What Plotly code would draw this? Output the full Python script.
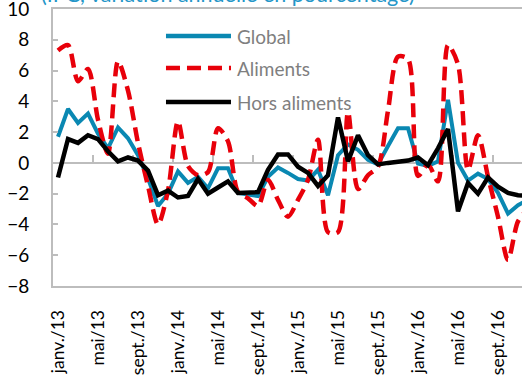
import plotly.graph_objects as go

# Monthly year-on-year CPI change, janv. 2013 - déc. 2016 (index 0 = janv./13)
global_ = [1.7, 3.5, 2.6, 3.2, 1.9, 0.95, 2.3, 1.6, 0.5, -1.0, -2.8, -2.0,
           -0.55, -1.3, -0.9, -1.65, -0.35, -0.35, -1.95, -2.05, -2.15, -0.9, -0.3, -0.65,
           -1.05, -1.15, -0.45, -2.1, 0.5, 1.2, 0.85, 0.2, -0.1, 1.1, 2.25, 2.25,
           -0.05, -0.2, 0.1, 4.1, 0.0, -1.15, -0.7, -1.05, -1.95, -3.3, -2.75, -2.4]
aliments = [7.3, 7.65, 5.3, 6.1, 2.8, 0.6, 6.6, 4.7, 1.3, -1.5, -4.0, -1.8,
            2.7, -0.2, -0.8, -0.6, 2.25, 1.4, -1.9, -2.3, -2.8, -1.1, -2.4, -3.5,
            -2.4, -1.1, 1.5, -4.5, -4.5, 3.3, -1.7, -0.8, -0.25, 3.4, 6.9, 6.75,
            -0.85, -0.1, -1.2, 7.65, 6.4, -0.45, 1.8, -0.9, -3.5, -6.3, -3.8, -3.0]
hors_aliments = [-0.95, 1.55, 1.3, 1.8, 1.55, 0.75, 0.1, 0.35, 0.15, -0.5, -2.1, -1.8,
                 -2.25, -2.15, -1.05, -2.0, -1.6, -1.2, -1.95, -1.9, -1.9, -0.45, 0.55, 0.55,
                 -0.25, -0.65, -1.5, -0.8, 2.95, 0.1, 1.8, 0.5, -0.1, 0.0, 0.05, 0.15,
                 0.35, -0.15, 0.95, 2.2, -3.15, -1.3, -2.0, -0.95, -1.55, -1.95, -2.1, -2.15]

tick_labels = ["janv./13", "mai/13", "sept./13", "janv./14", "mai/14", "sept./14",
               "janv./15", "mai/15", "sept./15", "janv./16", "mai/16", "sept./16"]
y_ticks = [-8, -6, -4, -2, 0, 2, 4, 6, 8, 10]

months = list(range(len(global_)))
label_pos = list(range(0, 4 * len(tick_labels), 4))
boundary_ticks = [p + 3.5 for p in label_pos]

BLUE = "#0A88B2"
RED = "#E8000A"
BLACK = "#000000"
GRID = "#BDBDBD"
FONT = "Lato"
X_RANGE = [-0.5, 46.4]

fig = go.Figure()
fig.add_trace(go.Scatter(x=months, y=global_, mode="lines", name="Global",
                         line=dict(color=BLUE, width=4)))
fig.add_trace(go.Scatter(x=months, y=aliments, mode="lines", name="Aliments",
                         line=dict(color=RED, width=4.5, dash="14px,7px",
                                   shape="spline", smoothing=0.8)))
fig.add_trace(go.Scatter(x=months, y=hors_aliments, mode="lines", name="Hors aliments",
                         line=dict(color=BLACK, width=4.5)))
# invisible trace that carries the labelled bottom axis
fig.add_trace(go.Scatter(x=[0], y=[0], xaxis="x2", mode="markers",
                         marker=dict(opacity=0), hoverinfo="skip", showlegend=False))

# in-plot legend
legend_items = [("Global", BLUE, "solid", 0.9025),
                ("Aliments", RED, "14px,7px", 0.787),
                ("Hors aliments", BLACK, "solid", 0.664)]
for name, color, dash, yy in legend_items:
    fig.add_shape(type="line", xref="paper", yref="paper",
                  x0=0.2409, x1=0.3795, y0=yy, y1=yy,
                  line=dict(color=color, width=4.5, dash=dash))
    fig.add_annotation(text=name, xref="paper", yref="paper", x=0.389, y=yy,
                       xanchor="left", yanchor="middle", showarrow=False,
                       font=dict(family=FONT, size=19, color="#7F7F7F"))

fig.add_annotation(text="(IPC, variation annuelle en pourcentage)",
                   xref="paper", yref="paper", x=0.373, y=1.0,
                   xanchor="center", yanchor="bottom", showarrow=False,
                   font=dict(family=FONT, size=21.5, color="#2496C8"))

fig.update_layout(
    width=522, height=375,
    margin=dict(l=53, r=0, t=9, b=89, autoexpand=False),
    paper_bgcolor="white", plot_bgcolor="white",
    showlegend=False,
    xaxis=dict(range=X_RANGE, anchor="free", position=8 / 18, automargin=False,
               showline=True, linecolor=GRID, linewidth=2,
               ticks="inside", ticklen=7, tickwidth=1.5, tickcolor=GRID,
               tickvals=boundary_ticks, showticklabels=False,
               showgrid=False, zeroline=False, layer="below traces"),
    xaxis2=dict(range=X_RANGE, overlaying="x", anchor="y", side="bottom",
                automargin=False,
                tickvals=label_pos, ticktext=tick_labels, tickangle=-90,
                ticks="", ticklabelstandoff=15,
                tickfont=dict(family=FONT, size=17.5, color="#000000"),
                showline=True, mirror=True, linecolor=GRID, linewidth=2,
                showgrid=False, zeroline=False),
    yaxis=dict(range=[-8, 10], tickvals=y_ticks, showline=True, linecolor=GRID,
               linewidth=2, ticks="inside", ticklen=5, tickwidth=1.5, tickcolor=GRID,
               automargin=False, ticklabelstandoff=18, ticklabeloverflow="allow",
               tickfont=dict(family=FONT, size=19, color="#000000"),
               showgrid=False, zeroline=False),
)

fig.write_html("out.html")
